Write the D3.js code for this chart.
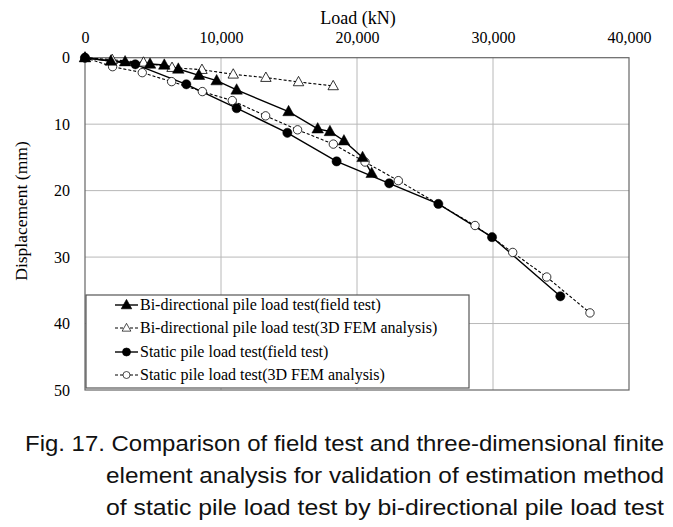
<!DOCTYPE html>
<html><head><meta charset="utf-8">
<script src="https://cdn.jsdelivr.net/npm/d3@7"></script>
<style>body{margin:0;background:#fff}svg{display:block}</style>
</head><body>
<script>
// Data (load kN, displacement mm)
const biFieldLoad = [0, 1900, 2950, 4780, 5830, 6860, 8380, 9680, 11150, 14970, 17110, 18010, 19040, 20410, 21080];
const biFieldDisp = [0, 0.5, 0.6, 0.95, 1.1, 1.7, 2.65, 3.45, 4.85, 8.1, 10.7, 11.1, 12.5, 15.0, 17.4];
const biFemLoad = [0, 2000, 4300, 6400, 8600, 10900, 13300, 15700, 18250];
const biFemDisp = [0, 0.3, 0.7, 1.5, 1.8, 2.5, 3.0, 3.65, 4.25];
const stFieldLoad = [0, 3700, 7450, 11150, 14880, 18500, 22370, 25980, 29930, 34950];
const stFieldDisp = [0, 1.0, 4.0, 7.6, 11.3, 15.6, 18.9, 22.0, 27.0, 35.9];
const stFemLoad = [0, 2030, 4210, 6370, 8630, 10830, 13280, 15630, 18260, 20590, 23040, 28680, 31450, 33950, 37130];
const stFemDisp = [0, 1.35, 2.25, 3.6, 5.1, 6.45, 8.75, 10.85, 13.0, 15.7, 18.5, 25.25, 29.3, 33.0, 38.4];
const xTicks = [0, 10000, 20000, 30000, 40000];
const yTicks = [0, 10, 20, 30, 40, 50];
const seriesNames = [
  "Bi-directional pile load test(field test)",
  "Bi-directional pile load test(3D FEM analysis)",
  "Static pile load test(field test)",
  "Static pile load test(3D FEM analysis)"
];
const captionLines = [
  "Fig. 17. Comparison of field test and three-dimensional finite",
  "element analysis for validation of estimation method",
  "of static pile load test by bi-directional pile load test"
];

const W = 673, H = 527;
const L = 85, R = 629, T = 57.7, B = 390;
const SERIF = '"Liberation Serif", "Times New Roman", serif';
const SANS = '"Liberation Sans", Arial, sans-serif';
const svg = d3.select("body").append("svg").attr("width", W).attr("height", H);
const x = d3.scaleLinear().domain([0, 40000]).range([L, R]);
const y = d3.scaleLinear().domain([0, 50]).range([T, B]);

// grid
svg.append("g").selectAll("line").data(xTicks.slice(1, -1)).join("line")
  .attr("x1", d => x(d)).attr("x2", d => x(d)).attr("y1", T).attr("y2", B)
  .attr("stroke", "#b8b8b8").attr("stroke-width", 1);
svg.append("g").selectAll("line").data(yTicks.slice(1, -1)).join("line")
  .attr("y1", d => y(d)).attr("y2", d => y(d)).attr("x1", L).attr("x2", R)
  .attr("stroke", "#b8b8b8").attr("stroke-width", 1);
svg.append("rect").attr("x", L).attr("y", T).attr("width", R - L).attr("height", B - T)
  .attr("fill", "none").attr("stroke", "#666").attr("stroke-width", 1.2);

// axes
const xAxis = d3.axisTop(x).tickValues(xTicks).tickSize(0).tickPadding(0)
  .tickFormat(d3.format(","));
const gx = svg.append("g").attr("transform", `translate(0,${T - 15})`).call(xAxis);
gx.select(".domain").remove();
gx.selectAll("text").style("font-family", SERIF).style("font-size", "16px").attr("fill", "#000");

const yAxis = d3.axisLeft(y).tickValues(yTicks).tickSize(0).tickPadding(0);
const gy = svg.append("g").attr("transform", `translate(70,0)`).call(yAxis);
gy.select(".domain").remove();
gy.selectAll("text").style("font-family", SERIF).style("font-size", "16px").attr("fill", "#000");

svg.append("text").attr("x", 358).attr("y", 24).attr("text-anchor", "middle")
  .style("font-family", SERIF).style("font-size", "18px").text("Load (kN)");
svg.append("text").attr("transform", "translate(27,211) rotate(-90)").attr("text-anchor", "middle")
  .style("font-family", SERIF).style("font-size", "17.5px").text("Displacement (mm)");

const line = d3.line().x(d => x(d[0])).y(d => y(d[1]));
const zip = (a, b) => a.map((v, i) => [v, b[i]]);
const series = [
  {pts: zip(biFieldLoad, biFieldDisp), dash: null, shape: "tri", fill: "#000"},
  {pts: zip(biFemLoad, biFemDisp), dash: "3,2", shape: "tri", fill: "#fff"},
  {pts: zip(stFieldLoad, stFieldDisp), dash: null, shape: "circ", fill: "#000"},
  {pts: zip(stFemLoad, stFemDisp), dash: "3,2", shape: "circ", fill: "#fff"}
];
const triPath = (s) => `M0,${-s*0.62}L${s*0.58},${s*0.42}L${-s*0.58},${s*0.42}Z`;
function marker(g, s, cx, cy) {
  if (s.shape === "tri") {
    const sz = s.fill === "#000" ? 10 : 9;
    g.append("path").attr("d", triPath(sz)).attr("transform", `translate(${cx},${cy})`)
      .attr("fill", s.fill).attr("stroke", "#000").attr("stroke-width", s.fill === "#000" ? 0.5 : 0.8);
  } else {
    const r = s.fill === "#000" ? 4.6 : 4.2;
    g.append("circle").attr("cx", cx).attr("cy", cy).attr("r", r)
      .attr("fill", s.fill).attr("stroke", "#000").attr("stroke-width", s.fill === "#000" ? 0.5 : 0.8);
  }
}
[1, 3, 0, 2].forEach(i => {
  const s = series[i];
  svg.append("path").attr("d", line(s.pts)).attr("fill", "none").attr("stroke", "#000")
    .attr("stroke-width", s.dash ? 1.1 : 1.4).attr("stroke-dasharray", s.dash);
});
[1, 3, 0, 2].forEach(i => {
  const s = series[i];
  const g = svg.append("g");
  s.pts.forEach(p => marker(g, s, x(p[0]), y(p[1])));
});

// legend
const lg = svg.append("g");
lg.append("rect").attr("x", 86).attr("y", 295).attr("width", 383).attr("height", 93)
  .attr("fill", "#fff").attr("stroke", "#555").attr("stroke-width", 1.2);
const rowsY = [305, 328, 352, 375];
seriesNames.forEach((n, i) => {
  const s = series[i];
  const yy = rowsY[i];
  lg.append("line").attr("x1", 115).attr("x2", 138).attr("y1", yy).attr("y2", yy)
    .attr("stroke", "#000").attr("stroke-width", s.dash ? 1 : 1.4).attr("stroke-dasharray", s.dash);
  if (s.shape === "tri") {
    lg.append("path").attr("d", triPath(s.fill === "#000" ? 9 : 7.5)).attr("transform", `translate(126.5,${yy})`)
      .attr("fill", s.fill).attr("stroke", "#000").attr("stroke-width", 0.7);
  } else {
    lg.append("circle").attr("cx", 126.5).attr("cy", yy).attr("r", s.fill === "#000" ? 4 : 3.5)
      .attr("fill", s.fill).attr("stroke", "#000").attr("stroke-width", 0.7);
  }
  lg.append("text").attr("x", 140).attr("y", yy + 5)
    .style("font-family", SERIF).style("font-size", "16px").text(n);
});

// caption
const capX = [25, 106, 106], capY = [451, 483, 515], capR = 664;
captionLines.forEach((t, i) => {
  svg.append("text").attr("x", capX[i]).attr("y", capY[i])
    .style("font-family", SANS).style("font-size", "22px")
    .attr("textLength", capR - capX[i]).attr("lengthAdjust", "spacingAndGlyphs")
    .attr("fill", "#111").text(t);
});
</script>
</body></html>
